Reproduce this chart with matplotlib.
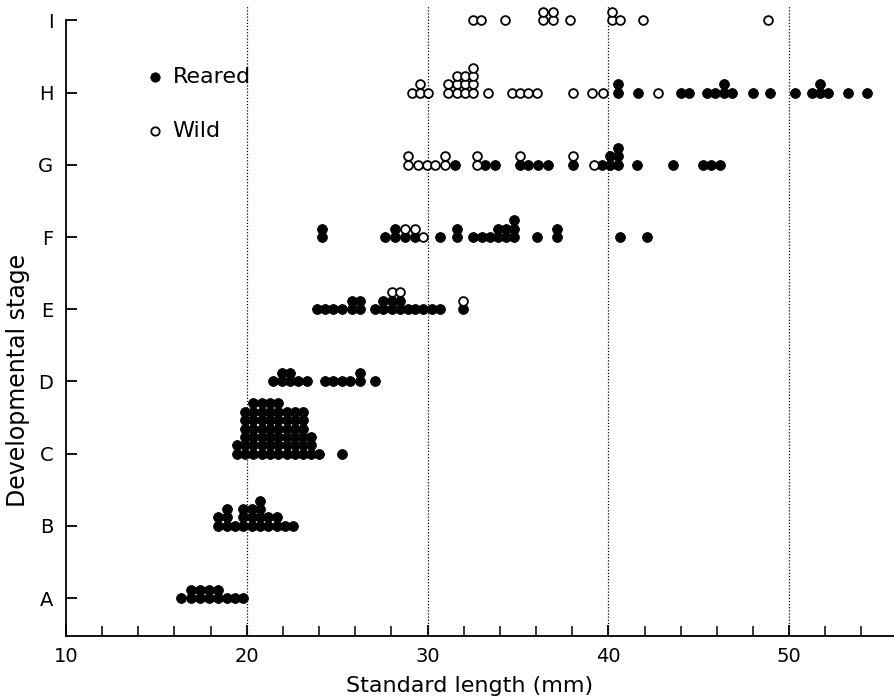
import matplotlib.pyplot as plt
import numpy as np

# stages and the dot columns: (length mm, n reared, n wild)
stages = ['A', 'B', 'C', 'D', 'E', 'F', 'G', 'H', 'I']

stage_a = [(16.36, 1, 0), (16.92, 2, 0), (17.41, 2, 0), (17.91, 2, 0), (18.41, 2, 0),
           (18.91, 1, 0), (19.35, 1, 0), (19.79, 1, 0)]
stage_b = [(18.43, 2, 0), (18.89, 3, 0), (19.35, 1, 0), (19.81, 3, 0), (20.27, 3, 0),
           (20.73, 4, 0), (21.19, 2, 0), (21.66, 2, 0), (22.12, 1, 0), (22.58, 1, 0)]
stage_c = [(19.44, 2, 0), (19.90, 6, 0), (20.36, 7, 0), (20.83, 7, 0), (21.29, 7, 0),
           (21.75, 7, 0), (22.21, 6, 0), (22.67, 6, 0), (23.13, 6, 0), (23.55, 3, 0),
           (24.0, 1, 0), (25.25, 1, 0)]
stage_d = [(21.43, 1, 0), (21.93, 2, 0), (22.39, 2, 0), (22.85, 1, 0), (23.31, 1, 0),
           (24.33, 1, 0), (24.79, 1, 0), (25.25, 1, 0), (25.71, 1, 0), (26.25, 2, 0),
           (27.10, 1, 0)]
stage_e = [(23.87, 1, 0), (24.33, 1, 0), (24.79, 1, 0), (25.25, 1, 0), (25.80, 2, 0),
           (26.27, 2, 0), (27.10, 1, 0), (27.55, 2, 0), (28.02, 2, 1), (28.48, 2, 1),
           (28.90, 1, 0), (29.31, 1, 0), (29.77, 1, 0), (30.23, 1, 0), (30.69, 1, 0),
           (31.98, 1, 1)]
stage_f = [(24.14, 2, 0), (27.65, 1, 0), (28.2, 2, 0), (28.75, 1, 1), (29.3, 1, 1),
           (29.77, 0, 1), (30.69, 1, 0), (31.62, 2, 0), (32.5, 1, 0), (33.0, 1, 0),
           (33.45, 1, 0), (33.9, 2, 0), (34.35, 2, 0), (34.8, 3, 0), (36.04, 1, 0),
           (37.15, 2, 0), (40.65, 1, 0), (42.13, 1, 0)]
stage_g = [(28.94, 0, 2), (29.49, 0, 1), (29.96, 0, 1), (30.42, 0, 1), (30.97, 0, 2),
           (31.52, 1, 0), (32.72, 0, 2), (33.18, 1, 0), (33.73, 1, 0), (35.12, 1, 1),
           (35.58, 1, 0), (36.13, 1, 0), (36.68, 1, 0), (38.07, 1, 1), (39.18, 0, 1),
           (39.64, 1, 0), (40.10, 2, 0), (40.56, 3, 0), (41.57, 1, 0), (43.6, 1, 0),
           (45.26, 1, 0), (45.7, 1, 0), (46.15, 1, 0)]
stage_h = [(29.12, 0, 1), (29.58, 0, 2), (30.04, 0, 1), (31.15, 0, 2), (31.62, 0, 3),
           (32.07, 0, 3), (32.53, 0, 4), (33.36, 0, 1), (34.66, 0, 1), (35.12, 0, 1),
           (35.58, 0, 1), (36.04, 0, 1), (38.07, 0, 1), (39.09, 0, 1), (39.73, 0, 1),
           (40.56, 2, 0), (41.66, 1, 0), (42.77, 0, 1), (44.0, 1, 0), (44.45, 1, 0),
           (45.45, 1, 0), (45.91, 1, 0), (46.37, 2, 0), (46.83, 1, 0), (48.02, 1, 0),
           (48.95, 1, 0), (50.33, 1, 0), (51.26, 1, 0), (51.71, 2, 0), (52.17, 1, 0),
           (53.28, 1, 0), (54.29, 1, 0)]
stage_i = [(32.53, 0, 1), (32.94, 0, 1), (34.29, 0, 1), (36.41, 0, 2), (36.96, 0, 2),
           (37.88, 0, 1), (40.19, 0, 2), (40.65, 0, 1), (41.94, 0, 1), (48.84, 0, 1)]

all_stages = [stage_a, stage_b, stage_c, stage_d, stage_e, stage_f, stage_g, stage_h, stage_i]

step = 0.116  # vertical spacing of stacked dots

rx, ry, wx, wy = [], [], [], []
for i, cols in enumerate(all_stages):
    for x, nr, nw in cols:
        for k in range(nr):
            rx.append(x)
            ry.append(i + k * step)
        for k in range(nw):
            wx.append(x)
            wy.append(i + (nr + k) * step)

fig = plt.figure(figsize=(8.94, 6.99), dpi=100)
ax = fig.add_axes([0.0738, 0.0901, 0.9262, 0.9013])

for v in [20, 30, 40, 50]:
    ax.axvline(v, color='black', linestyle=(0, (1, 1.5)), linewidth=0.9, zorder=1)

ax.scatter(rx, ry, s=50, c='black', edgecolors='black', linewidths=0.6, zorder=3, label='Reared')
ax.scatter(wx, wy, s=40, facecolors='white', edgecolors='black', linewidths=1.3, zorder=3, label='Wild')

ax.set_xlim(10, 55.8)
ax.set_ylim(-0.526, 8.2)
ax.set_yticks(range(len(stages)))
ax.set_yticklabels(stages)
ax.set_xticks([10, 20, 30, 40, 50])
ax.set_xticks(np.arange(12, 56, 2), minor=True)

for s in ['top', 'right']:
    ax.spines[s].set_visible(False)
ax.spines['left'].set_bounds(-0.526, 8.0)
ax.spines['left'].set_linewidth(1.3)
ax.spines['bottom'].set_linewidth(1.3)

ax.tick_params(axis='both', which='major', direction='in', length=8, width=1.3, labelsize=14)
ax.tick_params(axis='x', which='minor', direction='in', length=7, width=1.1)
ax.tick_params(axis='y', pad=9)
ax.tick_params(axis='x', pad=8)

ax.set_xlabel('Standard length (mm)', fontsize=16)
ax.xaxis.set_label_coords(0.488, -0.0635)
ax.set_ylabel('Developmental stage', fontsize=17)
ax.yaxis.set_label_coords(-0.0435, 0.406)

ax.legend(loc='upper left', bbox_to_anchor=(0.0697, 0.9345), frameon=False, fontsize=16,
          labelspacing=1.5, handlelength=1.0, handletextpad=0.3, markerscale=0.95)

fig.savefig('out.png', dpi=100)
